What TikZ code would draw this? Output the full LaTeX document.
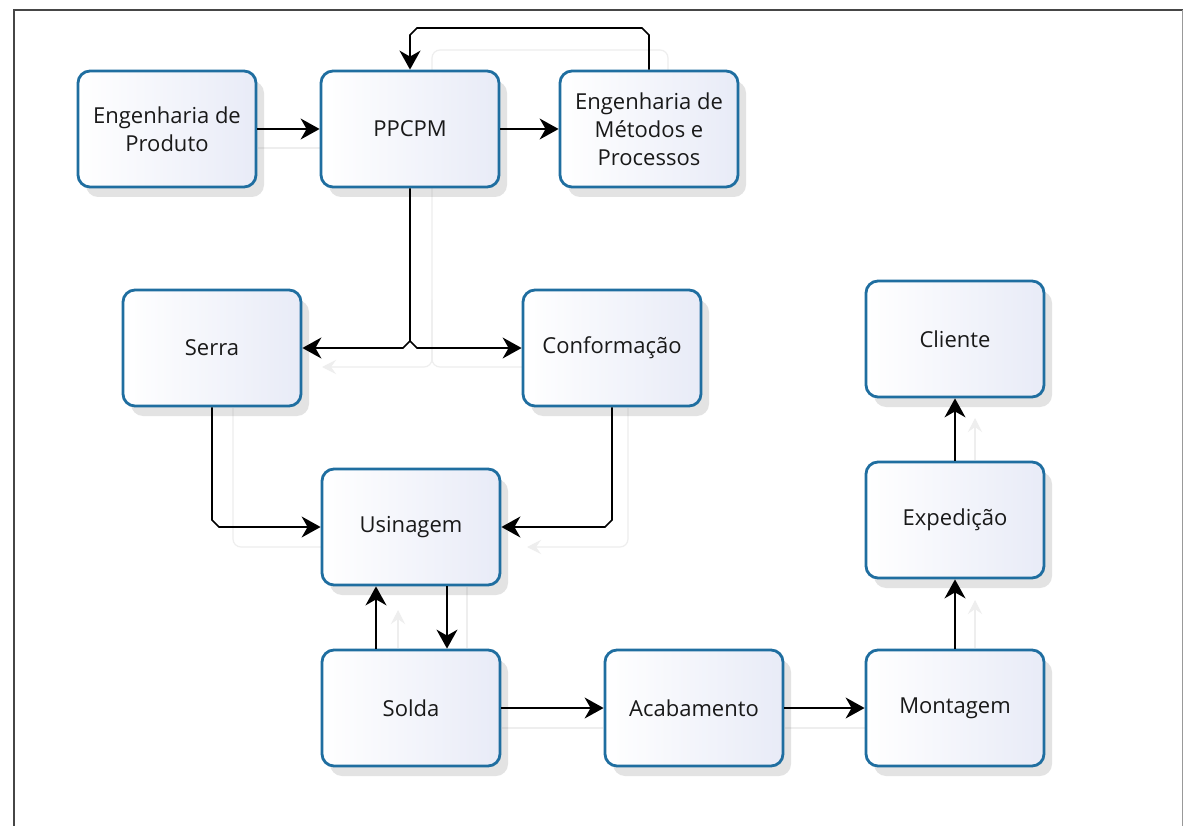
\documentclass[tikz,border=0pt]{standalone}
\usepackage{fontspec}
\setmainfont{Open Sans}
\usetikzlibrary{arrows.meta,shadows,calc}
\definecolor{boxborder}{RGB}{31,110,160}
\definecolor{boxfill}{RGB}{232,235,247}
\definecolor{framegray}{RGB}{70,70,70}
\definecolor{ghost}{RGB}{238,238,238}
\begin{document}
\begin{tikzpicture}[x=1pt,y=-1pt,
  proc/.style={draw=boxborder, line width=2.8pt, rounded corners=12pt,
    left color=white, right color=boxfill,
    minimum width=178pt, minimum height=116pt, align=center,
    font=\fontsize{22}{28}\selectfont, text=black!90,
    drop shadow={shadow xshift=8pt, shadow yshift=-10pt, opacity=0.18, fill=black!60}},
  conn/.style={line width=1.6pt, black, -{Stealth[length=19pt,width=21pt,inset=6pt]}},
  ghostline/.style={ghost, line width=1.2pt, rounded corners=8pt},
  ghostarrow/.style={ghost, line width=1.2pt, rounded corners=8pt, -{Stealth[length=14pt,width=14pt,inset=5pt]}}]
\useasboundingbox (0,0) rectangle (1183,826);
\fill[white] (0,0) rectangle (1183,826);
% frame
\draw[framegray, line width=2pt] (14,826) -- (14,10) -- (1183,10);
\draw[black!40, line width=1pt] (1182,10) -- (1182,826);

% faint ghost traces (drawn beneath)
\draw[ghostline] (258,148) -- (320,148);
\draw[ghostline] (432,70) -- (432,50) -- (668,50) -- (668,70);
\draw[ghostline] (432,188) -- (432,367) -- (522,367);
\draw[ghostarrow] (432,300) -- (432,367) -- (322,367);
\draw[ghostline] (233,408) -- (233,547) -- (321,547);
\draw[ghostarrow] (628,408) -- (628,547) -- (527,547);
\draw[ghostarrow] (398,648) -- (398,610);
\draw[ghostline] (467,587) -- (467,648);
\draw[ghostline] (502,728) -- (603,728);
\draw[ghostline] (785,728) -- (865,728);
\draw[ghostarrow] (975,460) -- (975,418);
\draw[ghostarrow] (975,648) -- (975,600);

% nodes
\node[proc] (eprod) at (167,129) {Engenharia de\\Produto};
\node[proc] (ppcpm) at (410,129) {PPCPM};
\node[proc] (emet)  at (649,129) {Engenharia de\\Métodos e\\Processos};
\node[proc] (serra) at (212,348) {Serra};
\node[proc] (conf)  at (612,348) {Conformação};
\node[proc] (cli)   at (955,339) {Cliente};
\node[proc] (usin)  at (411,527) {Usinagem};
\node[proc] (exped) at (955,520) {Expedição};
\node[proc] (solda) at (411,708) {Solda};
\node[proc] (acab)  at (694,708) {Acabamento};
\node[proc] (mont)  at (955,708) {Montagem};

% connectors
\draw[conn] (eprod) -- (ppcpm);
\draw[conn] (ppcpm) -- (emet);
\coordinate (t1) at (649,35);
\coordinate (t2) at (642,28);
\coordinate (t3) at (417,28);
\coordinate (t4) at (410,35);
\draw[conn] (emet.north -| t1) -- (t1) -- (t2) -- (t3) -- (t4) -- (ppcpm.north);

\coordinate (j0) at (410,341);
\coordinate (jl) at (403,348);
\coordinate (jr) at (417,348);
\draw[conn] (ppcpm.south) -- (j0) -- (jl) -- (serra.east);
\draw[conn] (j0) -- (jr) -- (conf.west);

\coordinate (s1) at (212,520);
\coordinate (s2) at (219,527);
\draw[conn] (serra.south) -- (s1) -- (s2) -- (usin.west);
\coordinate (c1) at (612,520);
\coordinate (c2) at (605,527);
\draw[conn] (conf.south) -- (c1) -- (c2) -- (usin.east);

\draw[conn] (solda.north -| 376,0) -- (usin.south -| 376,0);
\draw[conn] (usin.south -| 447,0) -- (solda.north -| 447,0);

\draw[conn] (solda) -- (acab);
\draw[conn] (acab) -- (mont);
\draw[conn] (mont) -- (exped);
\draw[conn] (exped) -- (cli);
\end{tikzpicture}
\end{document}
